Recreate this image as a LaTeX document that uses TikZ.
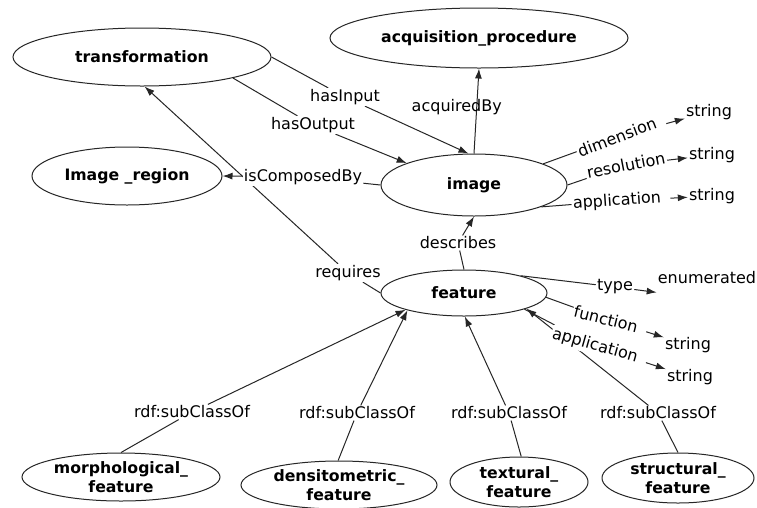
\documentclass[tikz,border=0pt]{standalone}
\usepackage{fontspec}
\setmainfont{DejaVu Sans}
\usetikzlibrary{shapes.geometric,arrows.meta,backgrounds}
\begin{document}
\begin{tikzpicture}[x=1pt,y=-1pt,
  every node/.style={font=\fontsize{16}{19}\selectfont},
  cls/.style={ellipse,draw=black!85,line width=1pt,fill=white,inner sep=0pt,
    font=\fontsize{15.7}{19}\selectfont\bfseries,align=center},
  lbl/.style={fill=white,inner sep=1.2pt},
  lit/.style={inner sep=1pt},
  edge/.style={draw=black!85,line width=1pt},
  arr/.style={edge,-{Latex[length=10pt,width=7pt]}},
  gap/.style={shorten <=8pt}]
\useasboundingbox (0,0) rectangle (757,507);

% classes
\node[cls,minimum width=258pt,minimum height=58pt] (trans) at (142,57) {transformation};
\node[cls,minimum width=298pt,minimum height=60pt] (acq) at (479,38) {acquisition\_procedure};
\node[cls,minimum width=190pt,minimum height=58pt] (region) at (127,176) {Image \_region};
\node[cls,minimum width=186pt,minimum height=62pt] (image) at (474,185) {image};
\node[cls,minimum width=166pt,minimum height=46pt] (feature) at (464,293) {feature};
\node[cls,minimum width=198pt,minimum height=48pt] (morph) at (121,477) {morphological\_\\feature};
\node[cls,minimum width=196pt,minimum height=48pt] (dens) at (339,485) {densitometric\_\\feature};
\node[cls,minimum width=138pt,minimum height=50pt] (text) at (519,482) {textural\_\\feature};
\node[cls,minimum width=152pt,minimum height=50pt] (struct) at (678,478) {structural\_\\feature};

% edge labels
\node[lbl] (hasin) at (345,97) {hasInput};
\node[lbl] (hasout) at (313,125) {hasOutput};
\node[lbl] (iscomp) at (303,177) {isComposedBy};
\node[lbl] (requires) at (348,273) {requires};
\node[lbl] (describes) at (458,243) {describes};
\node[lbl] (sub1) at (192,412) {rdf:subClassOf};
\node[lbl] (sub2) at (357,413) {rdf:subClassOf};
\node[lbl] (sub3) at (509,413) {rdf:subClassOf};
\node[lbl] (sub4) at (658,413) {rdf:subClassOf};

% datatype properties
\node[lbl,rotate=21] (dim) at (617,137) {dimension};
\node[lbl,rotate=11] (res) at (626,165) {resolution};
\node[lbl,rotate=4] (app1) at (617,201) {application};
\node[lbl] (type) at (615,287) {type};
\node[lbl,rotate=-14] (func) at (606,319) {function};
\node[lbl,rotate=-16] (app2) at (595,346) {application};

\node[lit] (s1) at (709,112) {string};
\node[lit] (s2) at (712,155) {string};
\node[lit] (s3) at (712,196) {string};
\node[lit] (enum) at (707,278) {enumerated};
\node[lit] (s4) at (688,345) {string};
\node[lit] (s5) at (690,377) {string};

\begin{scope}[on background layer]
\fill[white] (0,0) rectangle (757,507);
\draw[edge] (trans.east) -- (hasin);
\draw[arr] (hasin) -- (image.100);
\draw[edge] (trans.-13) -- (hasout);
\draw[arr] (hasout) -- (image.162);
\draw[edge] (image.west) -- (iscomp);
\draw[arr] (iscomp) -- (region.east);
\draw[edge] (feature.west) -- (requires);
\draw[arr] (requires) -- (trans.-85);
\draw[edge] (feature.north) -- (describes);
\draw[arr] (describes) -- (image.south);

\draw[edge] (morph.north) -- (sub1);
\draw[arr] (sub1) -- (feature.196);
\draw[edge] (dens.92) -- (sub2);
\draw[arr] (sub2) -- (feature.197);
\draw[edge] (text.85) -- (sub3);
\draw[arr] (sub3) -- (feature.-88);
\draw[edge] (struct.north) -- (sub4);
\draw[arr] (sub4) -- (feature.-14);

\draw[edge] (image.17) -- (dim);
\draw[arr,gap] (dim) -- (s1);
\draw[edge] (image.east) -- (res);
\draw[arr] (res) -- (s2);
\draw[edge] (image.-18) -- (app1);
\draw[arr,gap] (app1) -- (s3);
\draw[edge] (feature.17) -- (type);
\draw[arr] (type) -- ([yshift=-7pt]enum.south west);
\draw[edge] (feature.-3) -- (func);
\draw[arr,gap] (func) -- (s4);
\draw[edge] (feature.-15) -- (app2);
\draw[arr,gap] (app2) -- (s5);
\end{scope}
\draw[arr] (image.north) -- node[pos=0.55,xshift=-20pt,inner sep=1pt] (acqby) {acquiredBy} (acq.south);
\end{tikzpicture}
\end{document}
